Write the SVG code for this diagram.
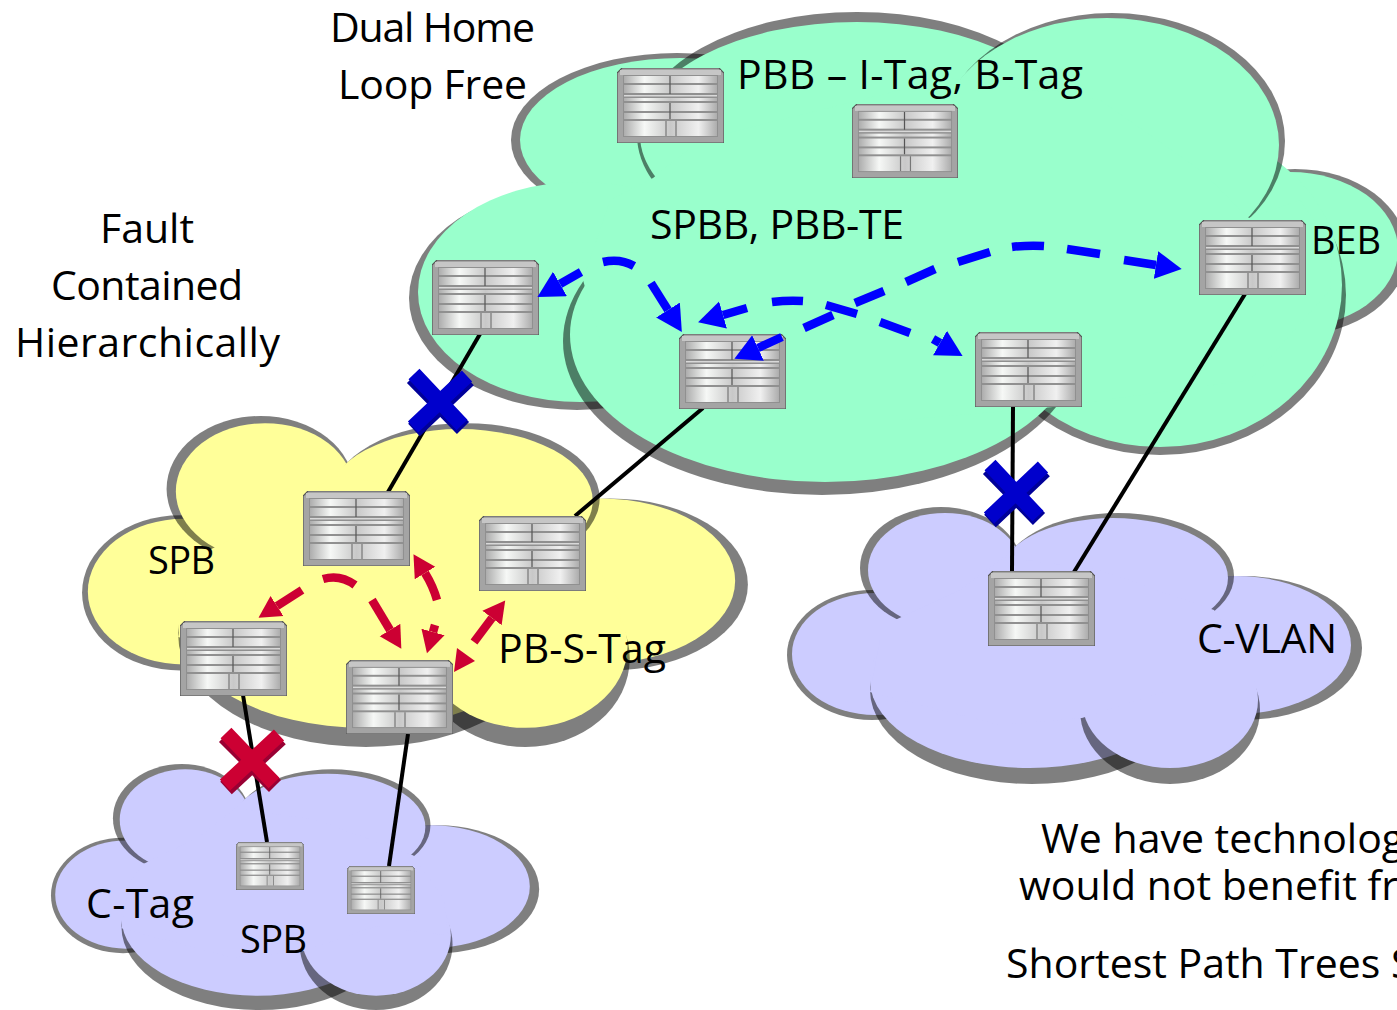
<svg xmlns="http://www.w3.org/2000/svg" width="1397" height="1010" viewBox="0 0 1397 1010">
<style>
text{font-family:"Open Sans","Noto Sans","Liberation Sans",sans-serif;font-size:41px;fill:#000}
text.n{font-size:38px}
.s{fill:#000;fill-opacity:.5}
.ln{stroke:#000;stroke-width:4;fill:none}
.bd{stroke:#0000ff;stroke-width:8.5;fill:none}
.rd{stroke:#cc0033;stroke-width:8.5;fill:none}
.band{fill:url(#bg)}
</style>
<defs>
<linearGradient id="bg" x1="0" x2="1" y1="0" y2="0"><stop offset="0" stop-color="#adadad"/><stop offset=".22" stop-color="#f6f8f6"/><stop offset=".5" stop-color="#c8c8c8"/><stop offset=".8" stop-color="#f0f0f0"/><stop offset="1" stop-color="#adadad"/></linearGradient>
<filter id="soft" x="-5%" y="-5%" width="110%" height="110%"><feGaussianBlur stdDeviation=".7"/></filter>
<marker id="mb" markerUnits="userSpaceOnUse" markerWidth="30" markerHeight="30" refX="0" refY="14" orient="auto"><path d="M0,0L26,14L0,28Z" fill="#0000ff"/></marker>
<marker id="mr" markerUnits="userSpaceOnUse" markerWidth="30" markerHeight="30" refX="0" refY="13" orient="auto"><path d="M0,1L22,13L0,25Z" fill="#cc0033"/></marker>
<symbol id="sw" viewBox="0 0 107 75" preserveAspectRatio="none">
<path d="M0,5L5,0H102L107,5V75H0Z" fill="#a4a4a4" stroke="#555" stroke-width="1.2"/>
<g filter="url(#soft)">
<rect x="3" y="2" width="101" height="5" fill="#c6c6c6"/>
<rect x="6" y="7" width="95" height="62" fill="#909090"/>
<rect class="band" x="7" y="8" width="93" height="7"/>
<rect class="band" x="7" y="17" width="93" height="8"/>
<rect x="7" y="27" width="93" height="1.5" fill="#d8d8d8"/>
<rect class="band" x="7" y="30" width="93" height="3"/>
<rect class="band" x="7" y="35" width="93" height="8"/>
<rect class="band" x="7" y="45" width="93" height="6"/>
<rect class="band" x="7" y="53" width="93" height="15"/>
<path d="M53,8V26M53,35V51" stroke="#555" stroke-width="1.2"/>
<path d="M49,53V68M59,53V68" stroke="#777" stroke-width="1.2"/>
</g>
</symbol>
<g id="puff">
<ellipse class="s" cx="872" cy="655" rx="85" ry="65"/><ellipse cx="875" cy="654" rx="83" ry="61"/>
<ellipse class="s" cx="1243" cy="648" rx="119" ry="72"/><ellipse cx="1235" cy="645" rx="116" ry="69"/>
<ellipse class="s" cx="941" cy="568" rx="81" ry="61"/><ellipse cx="945" cy="570" rx="77" ry="57"/>
<ellipse class="s" cx="1118" cy="576" rx="116" ry="63"/><ellipse cx="1113" cy="578" rx="115" ry="60"/>
<ellipse class="s" cx="1032" cy="690" rx="162" ry="94"/><ellipse cx="1030" cy="680" rx="160" ry="88"/>
<ellipse class="s" cx="1170" cy="710" rx="90" ry="74"/><ellipse cx="1170" cy="700" rx="88" ry="68"/>
<path d="M895,620L960,590L1004,557L1100,570L1214,610L1250,660L1255,700L1170,690L1082,718L1000,725L870,692L880,640Z"/>
</g>
</defs>
<rect width="1397" height="1010" fill="#fff"/>
<g id="cloud-green" fill="#99ffcc">
<ellipse class="s" cx="677" cy="140" rx="166" ry="87"/><ellipse cx="680" cy="140" rx="160" ry="82"/>
<ellipse class="s" cx="857" cy="135" rx="220" ry="123"/><ellipse cx="857" cy="135" rx="217" ry="113"/>
<ellipse class="s" cx="1295" cy="252" rx="112" ry="83"/><ellipse cx="1290" cy="250" rx="108" ry="78"/>
<ellipse class="s" cx="1160" cy="295" rx="186" ry="160"/><ellipse cx="1160" cy="285" rx="182" ry="162"/>
<ellipse class="s" cx="1112" cy="141" rx="173" ry="128"/><ellipse cx="1107" cy="145" rx="172" ry="127"/>
<ellipse class="s" cx="577" cy="298" rx="168" ry="112"/><ellipse cx="580" cy="292" rx="162" ry="110"/>
<ellipse class="s" cx="822" cy="341" rx="259" ry="154"/><ellipse cx="825" cy="335" rx="255" ry="147"/>
<path d="M653,178L700,140L949,78L1100,100L1200,170L1249,218L1300,200L1332,245L1330,290L1250,380L1053,407L900,420L700,420L600,340L583,280L610,200Z"/>
</g>
<g id="cloud-yellow" fill="#ffff99"><use href="#puff" transform="translate(-829.3,-189.9) scale(1.158,1.195)"/></g>
<g id="cloud-purple-right" fill="#ccccff"><use href="#puff"/></g>
<g id="cloud-purple-left" fill="#ccccff"><use href="#puff" transform="translate(-617.2,313.8) scale(.849,.888)"/></g>
<g id="connectors">
<path class="ln" d="M480,334L388,492"/>
<path class="ln" d="M703,408L575,516"/>
<path class="ln" d="M1013,406L1012,572"/>
<path class="ln" d="M1245,294L1074,572"/>
<path class="ln" d="M243,695L267,842"/>
<path class="ln" d="M408,734L389,866"/>
</g>
<g id="switch-1"><use href="#sw" x="617" y="68" width="107" height="75"/></g>
<g id="switch-2"><use href="#sw" x="852" y="104" width="106" height="74"/></g>
<g id="switch-3"><use href="#sw" x="432" y="260" width="107" height="75"/></g>
<g id="switch-4"><use href="#sw" x="679" y="334" width="107" height="75"/></g>
<g id="switch-5"><use href="#sw" x="975" y="332" width="107" height="75"/></g>
<g id="switch-6"><use href="#sw" x="1199" y="220" width="107" height="75"/></g>
<g id="switch-7"><use href="#sw" x="303" y="491" width="107" height="75"/></g>
<g id="switch-8"><use href="#sw" x="479" y="516" width="107" height="75"/></g>
<g id="switch-9"><use href="#sw" x="180" y="621" width="107" height="75"/></g>
<g id="switch-10"><use href="#sw" x="346" y="660" width="107" height="74"/></g>
<g id="switch-11"><use href="#sw" x="988" y="571" width="107" height="75"/></g>
<g id="switch-12"><use href="#sw" x="236" y="842" width="68" height="48"/></g>
<g id="switch-13"><use href="#sw" x="347" y="866" width="68" height="48"/></g>
<g id="flows-blue">
<path class="bd" marker-end="url(#mb)" d="M581,272L560,284"/>
<path class="bd" d="M603,262Q620,258 634,266"/>
<path class="bd" marker-end="url(#mb)" d="M651,283L668,310"/>
<path class="bd" marker-end="url(#mb)" d="M747,308L723,315"/>
<path class="bd" d="M772,302Q788,300 803,301"/>
<path class="bd" d="M826,305L857,314"/>
<path class="bd" d="M880,322L910,333"/>
<path class="bd" marker-end="url(#mb)" d="M933,339L940,343"/>
<path class="bd" marker-end="url(#mb)" d="M782,337L758,348"/>
<path class="bd" d="M804,328L833,315"/>
<path class="bd" d="M855,303L884,291"/>
<path class="bd" d="M906,282L935,269"/>
<path class="bd" d="M958,262L990,252"/>
<path class="bd" d="M1012,247Q1028,245 1044,246"/>
<path class="bd" d="M1067,249L1100,254"/>
<path class="bd" marker-end="url(#mb)" d="M1124,260L1156,265"/>
</g>
<g id="flows-red">
<path class="rd" marker-end="url(#mr)" d="M302,590L277,606"/>
<path class="rd" d="M323,579Q340,574 355,585"/>
<path class="rd" marker-end="url(#mr)" d="M372,600L390,630"/>
<path class="rd" marker-end="url(#mr)" d="M437,600Q433,586 425,573"/>
<path class="rd" marker-end="url(#mr)" d="M435,625L433,632"/>
<path class="rd" marker-end="url(#mr)" d="M474,642L492,618"/>
<path d="M454,672L457,648L475,661Z" fill="#cc0033"/>
</g>
<g id="x-blue-1" fill="none">
<path d="M413,377L463,428M468,379L414,430" stroke="#000099" stroke-width="17"/>
<path d="M414,374L462,425M467,376L413,427" stroke="#0000cc" stroke-width="15"/>
</g>
<g id="x-blue-2" fill="none">
<path d="M989,468L1039,519M1044,470L990,521" stroke="#000099" stroke-width="17"/>
<path d="M990,465L1038,516M1043,467L989,518" stroke="#0000cc" stroke-width="15"/>
</g>
<g id="x-red" fill="none">
<path d="M225,736L275,786M280,738L226,788" stroke="#990033" stroke-width="17"/>
<path d="M226,733L274,783M279,735L225,785" stroke="#cc0033" stroke-width="15"/>
</g>
<g id="labels">
<text x="330" y="42" textLength="205">Dual Home</text>
<text x="338" y="99" textLength="189">Loop Free</text>
<text x="737" y="89" textLength="346">PBB – I-Tag, B-Tag</text>
<text x="650" y="239" textLength="254">SPBB, PBB-TE</text>
<text class="n" x="1311" y="254" textLength="70">BEB</text>
<text x="100" y="243" textLength="94">Fault</text>
<text x="51" y="300" textLength="192">Contained</text>
<text x="15" y="357" textLength="265">Hierarchically</text>
<text class="n" x="148" y="574" textLength="67">SPB</text>
<text x="498" y="663" textLength="168">PB-S-Tag</text>
<text x="86" y="918" textLength="108">C-Tag</text>
<text class="n" x="240" y="953" textLength="67">SPB</text>
<text x="1197" y="653" textLength="140">C-VLAN</text>
<text x="1041" y="853">We have technolog</text>
<text x="1019" y="900">would not benefit fr</text>
<text x="1006" y="978">Shortest Path Trees S</text>
</g>
</svg>
